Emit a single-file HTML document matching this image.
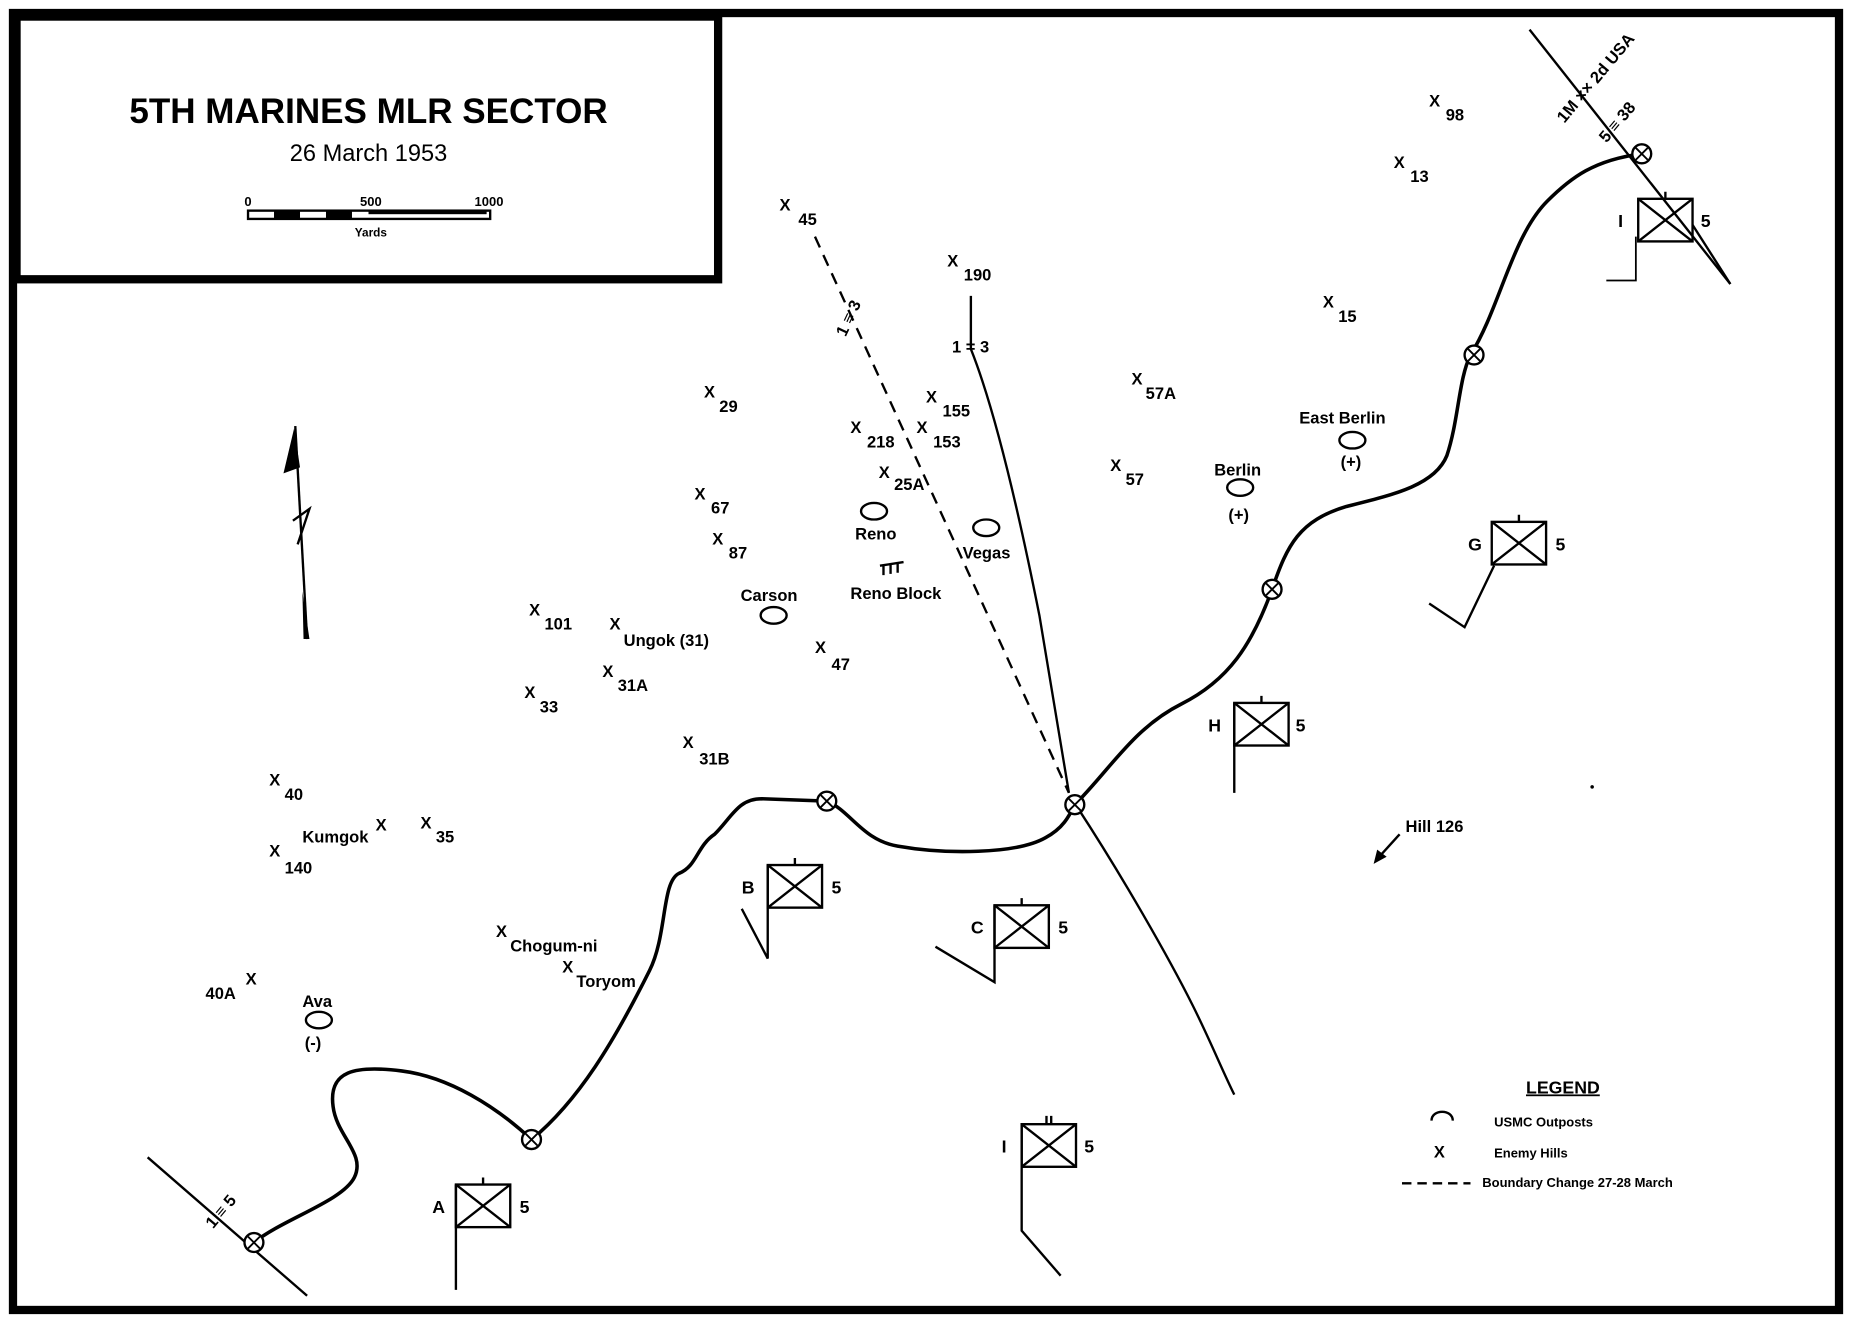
<!DOCTYPE html>
<html><head><meta charset="utf-8"><style>
html,body{margin:0;padding:0;background:#fff;}
svg{display:block;}
text{font-family:"Liberation Sans",sans-serif;font-weight:bold;fill:#000;}
</style></head><body>
<svg width="1852" height="1323" viewBox="0 0 1568 1118" preserveAspectRatio="none" xmlns="http://www.w3.org/2000/svg">
<rect x="0" y="0" width="1568" height="1118" fill="#fff"/>
<rect x="11" y="11" width="1546" height="1096" fill="none" stroke="#000" stroke-width="7"/>
<rect x="14" y="14" width="594" height="222" fill="#fff" stroke="#000" stroke-width="7"/>
<text x="312" y="104" font-size="30" text-anchor="middle" textLength="405" lengthAdjust="spacingAndGlyphs">5TH MARINES MLR SECTOR</text>
<text x="312" y="136" font-size="20" text-anchor="middle" style="font-weight:normal">26 March 1953</text>
<rect x="210" y="178" width="205" height="7" fill="none" stroke="#000" stroke-width="2"/>
<rect x="232" y="178" width="22" height="7" fill="#000"/><rect x="276" y="178" width="22" height="7" fill="#000"/><rect x="312" y="178" width="100" height="3" fill="#000"/>
<text x="210" y="174" font-size="11" text-anchor="middle">0</text>
<text x="314" y="174" font-size="11" text-anchor="middle">500</text>
<text x="414" y="174" font-size="11" text-anchor="middle">1000</text>
<text x="314" y="200" font-size="10" text-anchor="middle">Yards</text>

<g fill="none" stroke="#000">
<path stroke-width="3" d="M215,1050 C240,1030 290,1015 300,995 C310,975 285,960 282,935 C278,905 300,900 340,905 C380,910 420,935 450,963 C490,930 520,880 550,820 C565,790 560,745 575,738 C590,732 590,715 605,705 C620,690 625,675 645,675 L700,677 C720,685 730,710 760,715 C800,722 860,722 885,708 C900,700 905,690 910,680 C940,650 960,615 1000,595 C1040,575 1060,545 1077,498 C1090,460 1100,440 1140,428 C1180,418 1215,410 1225,385 C1235,355 1235,320 1245,300 C1270,260 1280,200 1310,170 C1330,150 1350,135 1390,130"/>
<path stroke-width="2" stroke-dasharray="10,7" d="M690,200 L905,670"/>
<path stroke-width="2" d="M822,250 L822,295 C840,340 860,420 880,520 C890,580 898,630 905,670"/>
<path stroke-width="2" d="M912,682 C950,740 990,810 1010,850 C1025,880 1035,905 1045,925"/>
<path stroke-width="2" d="M125,978 L260,1095"/>
<path stroke-width="2" d="M1295,25 L1465,240"/>
<path stroke-width="1.5" d="M1360,237 L1385,237 L1385,200"/>
<path stroke-width="2" d="M1185,705 L1165,727"/>
<path stroke-width="2" d="M1210,510 L1240,530 L1265,478"/>
</g>
<path d="M1163,730 L1166,718 L1174,724 Z" fill="#000"/>
<g fill="#fff" stroke="#000" stroke-width="2">
<circle cx="215" cy="1050" r="8"/><circle cx="450" cy="963" r="8"/><circle cx="700" cy="677" r="8"/><circle cx="910" cy="680" r="8"/><circle cx="1077" cy="498" r="8"/><circle cx="1248" cy="300" r="8"/><circle cx="1390" cy="130" r="8"/>
</g>
<g stroke="#000" stroke-width="1.6">
<path d="M210,1045 L220,1055 M220,1045 L210,1055 M445,958 L455,968 M455,958 L445,968 M695,672 L705,682 M705,672 L695,682 M905,675 L915,685 M915,675 L905,685 M1072,493 L1082,503 M1082,493 L1072,503 M1243,295 L1253,305 M1253,295 L1243,305 M1385,125 L1395,135 M1395,125 L1385,135"/>
</g>
<path d="M250,360 L260,540" stroke="#000" stroke-width="2"/>
<path d="M249,362 L240,400 L254,395 Z" fill="#000"/>
<path d="M256,500 L262,540 L257,540 Z" fill="#000"/>
<path d="M248,440 L262,430 L252,460" stroke="#000" stroke-width="2" fill="none"/>
<g fill="none" stroke="#000" stroke-width="2">
<g><rect x="1387" y="168" width="46" height="36"/><path d="M1387,168 L1433,204 M1433,168 L1387,204 M1410,168 L1410,162"/><path d="M1433,190 L1465,240"/></g>
<g><rect x="1263" y="441" width="46" height="36"/><path d="M1263,441 L1309,477 M1309,441 L1263,477 M1286,441 L1286,435"/></g>
<g><rect x="1045" y="594" width="46" height="36"/><path d="M1045,594 L1091,630 M1091,594 L1045,630 M1068,594 L1068,588 M1045,594 L1045,670"/></g>
<g><rect x="650" y="731" width="46" height="36"/><path d="M650,731 L696,767 M696,731 L650,767 M673,731 L673,725 M650,731 L650,810 L628,768"/></g>
<g><rect x="842" y="765" width="46" height="36"/><path d="M842,765 L888,801 M888,765 L842,801 M865,765 L865,759 M842,765 L842,830 L792,800"/></g>
<g><rect x="865" y="950" width="46" height="36"/><path d="M865,950 L911,986 M911,950 L865,986 M886,950 L886,943 M890,950 L890,943 M865,950 L865,1040 L898,1078"/></g>
<g><rect x="386" y="1001" width="46" height="36"/><path d="M386,1001 L432,1037 M432,1001 L386,1037 M409,1001 L409,995 M386,1001 L386,1090"/></g>
</g>
<g font-size="15">
<text x="1370" y="192">I</text><text x="1440" y="192">5</text>
<text x="1243" y="465">G</text><text x="1317" y="465">5</text>
<text x="1023" y="618">H</text><text x="1097" y="618">5</text>
<text x="628" y="755">B</text><text x="704" y="755">5</text>
<text x="822" y="789">C</text><text x="896" y="789">5</text>
<text x="848" y="974">I</text><text x="918" y="974">5</text>
<text x="366" y="1025">A</text><text x="440" y="1025">5</text>
</g>
<g fill="none" stroke="#000" stroke-width="2">
<ellipse cx="740" cy="432" rx="11" ry="7"/><ellipse cx="835" cy="446" rx="11" ry="7"/><ellipse cx="655" cy="520" rx="11" ry="7"/>
<ellipse cx="1050" cy="412" rx="11" ry="7"/><ellipse cx="1145" cy="372" rx="11" ry="7"/><ellipse cx="270" cy="862" rx="11" ry="7"/>
<path d="M1212,947 C1212,937 1230,937 1230,947"/>
<path d="M1187,1000 L1245,1000" stroke-dasharray="8,5"/>
<path d="M745,478 L765,475 M748,478 L748,486 M754,477 L754,485 M760,476 L760,484"/>
</g>
<g font-size="14">
<text x="1292" y="924" font-size="15" text-decoration="underline">LEGEND</text>
<text x="1265" y="952" font-size="11">USMC Outposts</text>
<text x="1214" y="978">X</text><text x="1265" y="978" font-size="11">Enemy Hills</text>
<text x="1255" y="1003" font-size="11">Boundary Change 27-28 March</text>
<text x="1190" y="703">Hill 126</text>
<text x="1100" y="358">East Berlin</text><text x="1135" y="395">(+)</text>
<text x="1028" y="402">Berlin</text><text x="1040" y="440">(+)</text>
<text x="724" y="456">Reno</text><text x="815" y="472">Vegas</text>
<text x="720" y="506">Reno Block</text><text x="627" y="508">Carson</text>
<text x="256" y="851">Ava</text><text x="258" y="886">(-)</text>
<text x="660" y="178">X</text><text x="676" y="190">45</text>
<text x="802" y="225">X</text><text x="816" y="237">190</text>
<text x="1210" y="90">X</text><text x="1224" y="102">98</text>
<text x="1180" y="142">X</text><text x="1194" y="154">13</text>
<text x="1120" y="260">X</text><text x="1133" y="272">15</text>
<text x="958" y="325">X</text><text x="970" y="337">57A</text>
<text x="940" y="398">X</text><text x="953" y="410">57</text>
<text x="596" y="336">X</text><text x="609" y="348">29</text>
<text x="784" y="340">X</text><text x="798" y="352">155</text>
<text x="776" y="366">X</text><text x="790" y="378">153</text>
<text x="720" y="366">X</text><text x="734" y="378">218</text>
<text x="744" y="404">X</text><text x="757" y="414">25A</text>
<text x="588" y="422">X</text><text x="602" y="434">67</text>
<text x="603" y="460">X</text><text x="617" y="472">87</text>
<text x="448" y="520">X</text><text x="461" y="532">101</text>
<text x="516" y="532">X</text><text x="528" y="546">Ungok (31)</text>
<text x="690" y="552">X</text><text x="704" y="566">47</text>
<text x="510" y="572">X</text><text x="523" y="584">31A</text>
<text x="444" y="590">X</text><text x="457" y="602">33</text>
<text x="578" y="632">X</text><text x="592" y="646">31B</text>
<text x="228" y="664">X</text><text x="241" y="676">40</text>
<text x="256" y="712">Kumgok</text><text x="318" y="702">X</text>
<text x="356" y="700">X</text><text x="369" y="712">35</text>
<text x="228" y="724">X</text><text x="241" y="738">140</text>
<text x="420" y="792">X</text><text x="432" y="804">Chogum-ni</text>
<text x="476" y="822">X</text><text x="488" y="834">Toryom</text>
<text x="174" y="844">40A</text><text x="208" y="832">X</text>
<text x="700" y="280" transform="rotate(-65 712 270)">1 ≡ 3</text>
<text x="806" y="298">1 = 3</text>
<text x="1300" y="88" transform="rotate(-50 1330 70)">1M ×× 2d USA</text>
<text x="1340" y="112" transform="rotate(-50 1360 95)">5 ≡ 38</text>
<text x="160" y="1025" transform="rotate(-50 185 1010)">1 ≡ 5</text>
</g>
<circle cx="1348" cy="665" r="1.5" fill="#000"/>
</svg>
</body></html>
